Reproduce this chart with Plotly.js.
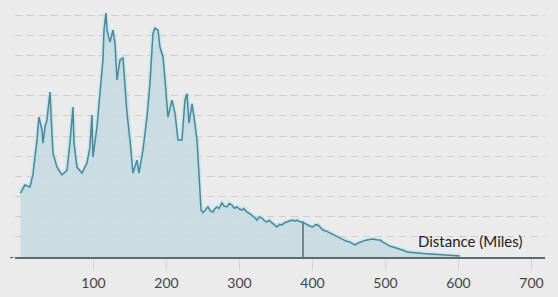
<!DOCTYPE html>
<html>
<head>
<meta charset="utf-8">
<script src="https://cdn.plot.ly/plotly-3.0.1.min.js"></script>
<style>html,body{margin:0;padding:0;background:#ebebeb;}#chart{width:558px;height:297px;}</style>
</head>
<body>
<div id="chart"></div>
<script>
// Distance along route (miles)
const miles = [0, 6, 13, 17, 22.6, 25.3, 29.5, 30.8, 33.6, 36.3, 40.4, 44.5, 50, 56.8, 63.7, 67.8, 71.9, 73.3, 77.4, 84.2, 91.1, 95.2, 97.9, 99.3, 104.8, 108.9, 113, 114.4, 117.1, 118.5, 122.6, 126.7, 129.5, 132.2, 136.3, 140.4, 143.2, 145.9, 150, 154.1, 159.6, 162.3, 167.8, 173.3, 177.4, 181.5, 184.2, 188.4, 191.1, 195.2, 198, 202, 207.5, 211.6, 215.8, 221.2, 225.3, 228.1, 230.8, 235, 237.7, 241.8, 244.5, 247.3, 250, 252.7, 256.8, 260, 263.7, 266, 269.2, 272, 276, 279, 282.9, 286, 289.7, 293, 296.6, 300, 303.4, 306, 310.3, 314, 317.1, 321, 324, 327, 330.8, 334, 337.7, 341, 344.5, 348, 351.4, 355, 358.2, 362, 365.1, 369, 372, 376, 378.8, 382, 385.6, 389, 392.5, 396, 400.7, 404, 407.5, 411, 414.4, 419, 424, 429, 433.6, 438, 441.8, 446, 451.4, 455, 458.2, 462, 465.1, 470, 474.7, 479, 483, 488, 492.5, 497, 502, 506, 510.3, 515, 520, 525, 529.5, 536, 543, 552, 561, 571, 581, 592, 602];
// Elevation (feet)
const elevation = [3170, 3570, 3470, 4070, 5800, 6940, 6300, 5650, 6450, 6800, 8180, 5150, 4460, 4070, 4300, 5650, 7440, 5650, 4460, 4160, 4660, 5450, 7040, 4960, 6450, 8100, 9770, 11250, 12100, 11250, 10660, 11250, 10600, 8780, 9770, 9870, 8630, 7140, 5800, 4160, 4800, 4160, 5300, 6940, 8630, 11100, 11350, 11250, 10400, 9920, 8780, 6940, 7780, 7140, 5800, 5800, 7780, 8100, 6640, 7600, 6940, 5800, 4160, 2330, 2200, 2330, 2480, 2300, 2230, 2380, 2480, 2400, 2680, 2520, 2480, 2650, 2580, 2420, 2480, 2380, 2330, 2400, 2230, 2150, 2080, 1950, 1830, 1980, 1930, 1800, 1740, 1820, 1690, 1600, 1490, 1620, 1590, 1700, 1740, 1800, 1830, 1780, 1830, 1760, 1740, 1680, 1590, 1540, 1490, 1600, 1590, 1450, 1340, 1280, 1190, 1080, 990, 900, 840, 790, 740, 650, 600, 680, 740, 800, 840, 870, 890, 860, 840, 720, 600, 540, 500, 450, 400, 320, 250, 220, 200, 170, 150, 120, 100, 70, 50];
// Marker position
const markerMile = [387, 387];
const markerElev = [0, 1750];
// Axis ticks
const xTickVals = [100, 200, 300, 400, 500, 600, 700];
const xTickText = ["100", "200", "300", "400", "500", "600", "700"];
const yTickVals = [0, 1000, 2000, 3000, 4000, 5000, 6000, 7000, 8000, 9000, 10000, 11000, 12000];
const yTickText = ["-", "", "", "", "", "", "", "", "", "", "", "", ""];
const axisLabel = "Distance (Miles)";

const traces = [
  {x: miles, y: elevation, type: "scatter", mode: "lines", fill: "tozeroy",
   fillcolor: "rgba(198,218,225,0.85)", line: {color: "rgba(170,225,238,0.5)", width: 4.5}, hoverinfo: "skip"},
  {x: miles, y: elevation, type: "scatter", mode: "lines",
   line: {color: "#4f8696", width: 1.5}},
  {x: markerMile, y: markerElev, type: "scatter", mode: "lines",
   line: {color: "#4f7680", width: 1.6}}
];

const layout = {
  width: 558, height: 297,
  margin: {l: 15, r: 13, t: 5, b: 40},
  paper_bgcolor: "#ebebeb", plot_bgcolor: "#ebebeb",
  showlegend: false,
  font: {family: "Lato, 'DejaVu Sans', sans-serif", size: 13, color: "#444"},
  xaxis: {range: [-7.5, 718.5], tickvals: xTickVals, ticktext: xTickText,
    showgrid: false, zeroline: false, showline: true, linecolor: "#5a6c6e", linewidth: 2,
    ticks: "outside", ticklen: 12, tickcolor: "#d6d6d6", tickwidth: 1,
    tickfont: {size: 14, color: "#444"}},
  yaxis: {range: [0, 12500], tickvals: yTickVals, ticktext: yTickText,
    showgrid: true, gridcolor: "#cdcdcd", gridwidth: 1, griddash: "7px,5px",
    zeroline: false, showline: false, ticks: "",
    tickfont: {size: 13, color: "#555"}},
  annotations: [{x: 616, y: 800, xref: "x", yref: "y", text: axisLabel, showarrow: false,
    font: {size: 15, color: "#222"}, xanchor: "center", yanchor: "middle"}]
};

Plotly.newPlot("chart", traces, layout, {displayModeBar: false, staticPlot: true});
</script>
</body>
</html>
